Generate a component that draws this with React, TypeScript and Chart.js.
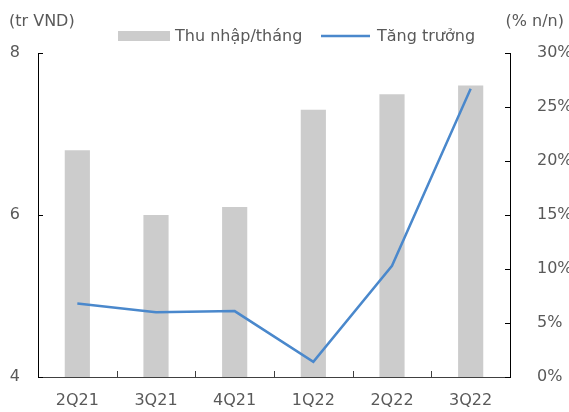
import React, { useEffect, useRef } from "react";
import { Chart, registerables } from "chart.js";

Chart.register(...registerables);

const categories = ["2Q21", "3Q21", "4Q21", "1Q22", "2Q22", "3Q22"];
const incomeValues = [6.8, 6.0, 6.1, 7.3, 7.49, 7.6];
const growthValues = [6.8, 6.0, 6.1, 1.4, 10.3, 26.7];
const leftTicks = [4, 6, 8];
const rightTicks = [0, 5, 10, 15, 20, 25, 30];
const incomeLabel = "Thu nhập/tháng";
const growthLabel = "Tăng trưởng";
const leftTitle = "(tr VND)";
const rightTitle = "(% n/n)";

const FONT = "'DejaVu Sans', sans-serif";
const BAR_COLOR = "#cccccc";
const LINE_COLOR = "#4a88cc";
const TEXT_COLOR = "#595959";

const decorPlugin = {
  id: "decor",
  afterDraw(chart: any) {
    const ctx = chart.ctx;
    const x = chart.scales.x;
    const yl = chart.scales.y;
    const yr = chart.scales.y1;
    const area = chart.chartArea;
    ctx.save();
    // inward tick marks
    ctx.lineWidth = 1;
    ctx.strokeStyle = "#000000";
    leftTicks.forEach((v) => {
      const py = Math.round(yl.getPixelForValue(v)) + 0.5;
      ctx.beginPath();
      ctx.moveTo(area.left, py);
      ctx.lineTo(area.left + 5, py);
      ctx.stroke();
    });
    rightTicks.forEach((v) => {
      const py = Math.round(yr.getPixelForValue(v)) + 0.5;
      ctx.beginPath();
      ctx.moveTo(area.right, py);
      ctx.lineTo(area.right - 5, py);
      ctx.stroke();
    });
    ctx.strokeStyle = "#404040";
    for (let i = 1; i < categories.length; i++) {
      const px =
        Math.round((x.getPixelForValue(i - 1) + x.getPixelForValue(i)) / 2) + 0.5;
      ctx.beginPath();
      ctx.moveTo(px, area.bottom);
      ctx.lineTo(px, area.bottom - 6);
      ctx.stroke();
    }
    // axis titles
    ctx.font = `16px ${FONT}`;
    ctx.fillStyle = TEXT_COLOR;
    ctx.textBaseline = "middle";
    ctx.textAlign = "left";
    ctx.fillText(leftTitle, 9, 22);
    ctx.textAlign = "right";
    ctx.fillText(rightTitle, 564, 22);
    // legend
    ctx.textAlign = "left";
    ctx.fillStyle = BAR_COLOR;
    ctx.fillRect(118, 31, 52, 10);
    ctx.fillStyle = TEXT_COLOR;
    ctx.fillText(incomeLabel, 175, 37);
    ctx.strokeStyle = LINE_COLOR;
    ctx.lineWidth = 2.5;
    ctx.beginPath();
    ctx.moveTo(321, 36);
    ctx.lineTo(370, 36);
    ctx.stroke();
    ctx.fillStyle = TEXT_COLOR;
    ctx.fillText(growthLabel, 377, 37);
    ctx.restore();
  },
};

export default function App() {
  const ref = useRef<HTMLCanvasElement>(null);
  useEffect(() => {
    if (!ref.current) return;
    const chart = new Chart(ref.current, {
      type: "bar",
      data: {
        labels: categories,
        datasets: [
          {
            type: "line",
            label: growthLabel,
            data: growthValues,
            yAxisID: "y1",
            borderColor: LINE_COLOR,
            backgroundColor: LINE_COLOR,
            borderWidth: 2.5,
            pointRadius: 0,
            tension: 0,
            order: 0,
          } as any,
          {
            type: "bar",
            label: incomeLabel,
            data: incomeValues,
            yAxisID: "y",
            backgroundColor: BAR_COLOR,
            barPercentage: 0.32,
            categoryPercentage: 1,
            order: 1,
          },
        ],
      },
      options: {
        responsive: false,
        animation: false,
        layout: { padding: { top: 53, left: 0, right: 0, bottom: 0 } },
        plugins: {
          legend: { display: false },
          tooltip: { enabled: false },
          title: { display: false },
        },
        scales: {
          x: {
            offset: true,
            grid: { display: false, drawTicks: false },
            border: { display: true, color: "#404040", width: 1 },
            ticks: {
              font: { family: FONT, size: 16 },
              color: TEXT_COLOR,
              padding: 14,
              maxRotation: 0,
            },
            afterFit: (s: any) => {
              s.height = 35;
            },
          },
          y: {
            position: "left",
            min: 4,
            max: 8,
            grid: { display: false, drawTicks: false },
            border: { display: true, color: "#000000", width: 1 },
            ticks: {
              stepSize: 2,
              font: { family: FONT, size: 16 },
              color: TEXT_COLOR,
              padding: 18,
            },
            afterFit: (s: any) => {
              s.width = 38;
              s.paddingTop = 10;
              s.paddingBottom = 10;
            },
          },
          y1: {
            position: "right",
            min: 0,
            max: 30,
            grid: { display: false, drawTicks: false },
            border: { display: true, color: "#000000", width: 1 },
            ticks: {
              stepSize: 5,
              font: { family: FONT, size: 16 },
              color: TEXT_COLOR,
              padding: 27,
              callback: (v: any) => `${v}%`,
            },
            afterFit: (s: any) => {
              s.width = 59;
              s.paddingTop = 10;
              s.paddingBottom = 10;
            },
          },
        },
      },
      plugins: [decorPlugin],
    });
    return () => chart.destroy();
  }, []);
  return (
    <div style={{ position: "absolute", left: 0, top: 0, width: 569, height: 412, background: "#fff" }}>
      <canvas ref={ref} width={569} height={412} style={{ display: "block" }} />
    </div>
  );
}
